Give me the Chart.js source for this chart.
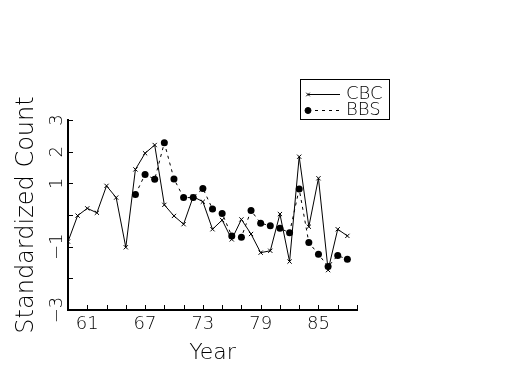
<!DOCTYPE html>
<html>
<head>
<meta charset="utf-8">
<script src="https://cdn.jsdelivr.net/npm/chart.js@4"></script>
<style>
    html, body { margin: 0; padding: 0; background: #fff; }
    #wrap { width: 525px; height: 375px; }
</style>
</head>
<body>
<div id="wrap"><canvas id="chart" width="525" height="375"></canvas></div>
<script>
const years = [59, 60, 61, 62, 63, 64, 65, 66, 67, 68, 69, 70, 71, 72, 73,
               74, 75, 76, 77, 78, 79, 80, 81, 82, 83, 84, 85, 86, 87, 88];
const cbc = [-0.84, -0.02, 0.21, 0.07, 0.92, 0.55, -1.02, 1.44, 1.95, 2.21, 0.32, -0.03, -0.29, 0.58, 0.42,
             -0.45, -0.16, -0.77, -0.14, -0.60, -1.19, -1.13, 0.03, -1.47, 1.84, -0.37, 1.16, -1.74, -0.45, -0.66];
const bbs = [null, null, null, null, null, null, null, 0.65, 1.28, 1.13, 2.28, 1.14, 0.55, 0.55, 0.84,
             0.19, 0.05, -0.66, -0.70, 0.14, -0.26, -0.34, -0.42, -0.56, 0.82, -0.87, -1.24, -1.63, -1.28, -1.40];
const xLabels = [61, 67, 73, 79, 85];
const yLabels = [3, 2, 1, -1, -3];

const FONT = "'DejaVu Sans', sans-serif";

function points(values) {
    return years.map((y, i) => ({ x: y, y: values[i] }));
}

// inward tick marks + legend box
const extras = {
    id: "extras",
    afterDraw(chart) {
        const ctx = chart.ctx;
        const xs = chart.scales.x;
        const ys = chart.scales.y;
        const area = chart.chartArea;
        ctx.save();
        ctx.strokeStyle = "#000";
        ctx.lineWidth = 1;
        ctx.beginPath();
        xs.ticks.forEach(t => {
            const px = Math.round(xs.getPixelForValue(t.value)) + 0.5;
            ctx.moveTo(px, area.bottom);
            ctx.lineTo(px, area.bottom - 5);
        });
        ys.ticks.forEach(t => {
            const py = Math.round(ys.getPixelForValue(t.value)) + 0.5;
            ctx.moveTo(area.left, py);
            ctx.lineTo(area.left + 5, py);
        });
        ctx.stroke();

        // legend
        ctx.strokeRect(300.5, 79.5, 89, 40);
        const rows = [{ y: 94 }, { y: 110 }];
        chart.data.datasets.forEach((ds, i) => {
            const y = rows[i].y + 0.5;
            ctx.beginPath();
            ctx.setLineDash(ds.borderDash || []);
            ctx.lineWidth = ds.borderWidth;
            ctx.moveTo(308, y);
            ctx.lineTo(340, y);
            ctx.stroke();
            ctx.setLineDash([]);
            Chart.helpers.drawPoint(ctx, {
                pointStyle: ds.pointStyle,
                radius: ds.pointRadius - 0.5,
                borderWidth: 1
            }, 308, y);
            ctx.fillStyle = "#000";
            ctx.font = "200 18px " + FONT;
            ctx.textBaseline = "middle";
            ctx.fillText(ds.label, 346, y);
        });
        ctx.restore();
    }
};

new Chart(document.getElementById("chart"), {
    type: "line",
    data: {
        datasets: [
            {
                label: "CBC",
                data: points(cbc),
                borderColor: "#000",
                backgroundColor: "#000",
                borderWidth: 1,
                pointStyle: "crossRot",
                pointRadius: 3,
                pointBorderWidth: 1,
                tension: 0
            },
            {
                label: "BBS",
                data: points(bbs),
                borderColor: "#000",
                backgroundColor: "#000",
                borderWidth: 1,
                borderDash: [3, 4],
                pointStyle: "circle",
                pointRadius: 3.5,
                pointBorderWidth: 0,
                spanGaps: false,
                tension: 0
            }
        ]
    },
    options: {
        responsive: false,
        animation: false,
        layout: { padding: { left: 0, right: 168, top: 120, bottom: 9 } },
        plugins: { legend: { display: false }, tooltip: { enabled: false } },
        scales: {
            x: {
                type: "linear",
                min: 59,
                max: 89,
                afterFit: s => { s.height = 56; },
                afterBuildTicks: s => {
                    s.ticks = [];
                    for (let v = 61; v <= 89; v += 2) s.ticks.push({ value: v });
                },
                grid: { display: false, drawTicks: false },
                border: { display: true, color: "#000", width: 2 },
                ticks: {
                    autoSkip: false,
                    maxRotation: 0,
                    padding: 4,
                    color: "#000",
                    font: { family: FONT, size: 18, weight: 200 },
                    callback: v => xLabels.includes(v) ? String(v) : ""
                },
                title: {
                    display: true,
                    text: "Year",
                    color: "#000",
                    font: { family: FONT, size: 22, weight: 200 },
                    padding: { top: 0, bottom: 0 }
                }
            },
            y: {
                min: -3,
                max: 3,
                afterFit: s => { s.width = 68; },
                ticks: {
                    stepSize: 1,
                    minRotation: 90,
                    maxRotation: 90,
                    crossAlign: "center",
                    padding: -3,
                    color: "#000",
                    font: { family: FONT, size: 18, weight: 200 },
                    callback: v => yLabels.includes(v) ? String(v).replace("-", "\u2212") : ""
                },
                grid: { display: false, drawTicks: false },
                border: { display: true, color: "#000", width: 2 },
                title: {
                    display: true,
                    text: "Standardized Count",
                    color: "#000",
                    font: { family: FONT, size: 24, weight: 200 },
                    padding: { top: 12, bottom: 0 }
                }
            }
        }
    },
    plugins: [extras]
});
</script>
</body>
</html>
